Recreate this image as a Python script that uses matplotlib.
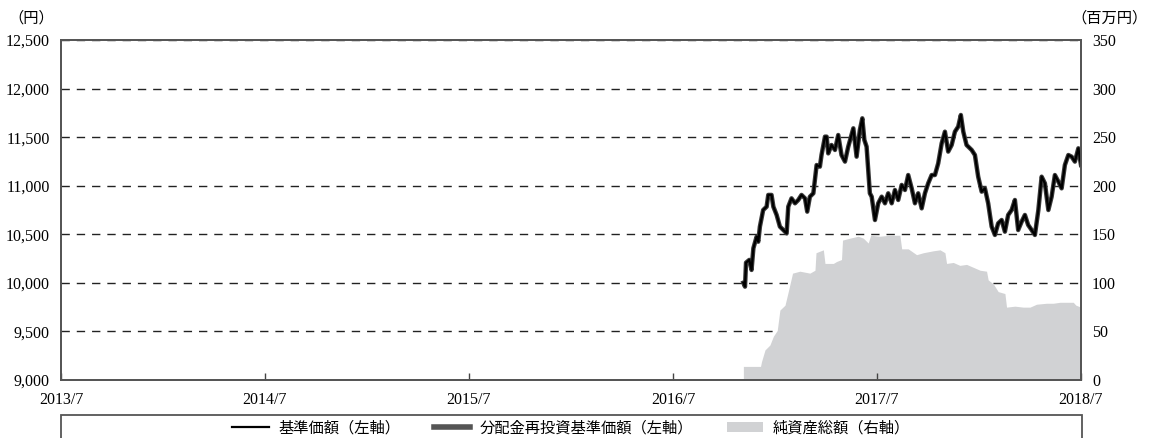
import matplotlib
matplotlib.use("Agg")
import matplotlib.pyplot as plt
from matplotlib.lines import Line2D
from matplotlib.patches import Patch, Rectangle

plt.rcParams['font.family'] = ['Liberation Serif', 'Noto Sans CJK JP']

# fund price (weekly-ish readings), x in fractional years
price_x = [2016.845, 2016.853, 2016.858, 2016.874, 2016.885, 2016.894, 2016.910, 2016.918,
           2016.926, 2016.942, 2016.959, 2016.967, 2016.983, 2016.992, 2017.008, 2017.024,
           2017.041, 2017.057, 2017.065, 2017.081, 2017.098, 2017.114, 2017.130, 2017.147,
           2017.158, 2017.171, 2017.188, 2017.204, 2017.220, 2017.228, 2017.245, 2017.253,
           2017.261, 2017.277, 2017.294, 2017.310, 2017.326, 2017.343, 2017.359, 2017.384,
           2017.400, 2017.416, 2017.428, 2017.438, 2017.449, 2017.465, 2017.474, 2017.490,
           2017.506, 2017.523, 2017.539, 2017.555, 2017.572, 2017.588, 2017.604, 2017.621,
           2017.637, 2017.653, 2017.670, 2017.686, 2017.702, 2017.719, 2017.735, 2017.751,
           2017.768, 2017.784, 2017.800, 2017.817, 2017.833, 2017.849, 2017.866, 2017.882,
           2017.898, 2017.911, 2017.923, 2017.939, 2017.964, 2017.980, 2017.996, 2018.013,
           2018.029, 2018.045, 2018.062, 2018.078, 2018.094, 2018.111, 2018.127, 2018.143,
           2018.160, 2018.176, 2018.192, 2018.209, 2018.225, 2018.241, 2018.258, 2018.274,
           2018.291, 2018.307, 2018.323, 2018.340, 2018.356, 2018.372, 2018.389, 2018.405,
           2018.421, 2018.438, 2018.454, 2018.470, 2018.487, 2018.500]
price = [10002, 9961, 10208, 10236, 10133, 10356, 10476, 10424,
         10579, 10750, 10784, 10905, 10905, 10784, 10699, 10579,
         10544, 10510, 10784, 10870, 10819, 10853, 10905, 10870,
         10733, 10887, 10922, 11213, 11196, 11316, 11505, 11505,
         11333, 11419, 11368, 11522, 11316, 11248, 11402, 11591,
         11299, 11574, 11694, 11471, 11402, 10922, 10887, 10647,
         10819, 10887, 10819, 10922, 10819, 10956, 10853, 11008,
         10956, 11110, 10973, 10819, 10922, 10767, 10922, 11025,
         11110, 11110, 11230, 11436, 11556, 11351, 11419, 11556,
         11608, 11728, 11556, 11419, 11368, 11316, 11093, 10939,
         10973, 10819, 10579, 10493, 10613, 10647, 10527, 10699,
         10750, 10853, 10544, 10630, 10699, 10596, 10544, 10493,
         10750, 11093, 11025, 10750, 10887, 11110, 11042, 10973,
         11213, 11316, 11299, 11248, 11385, 11213]
# reinvested price equals the base price (no distributions)
price_reinv = price

# net assets (million yen)
assets_x = [2016.845, 2016.929, 2016.934, 2016.951, 2016.975, 2016.992, 2017.011, 2017.024,
            2017.049, 2017.065, 2017.086, 2017.122, 2017.171, 2017.196, 2017.201, 2017.237,
            2017.245, 2017.286, 2017.302, 2017.326, 2017.331, 2017.367, 2017.408, 2017.433,
            2017.457, 2017.469, 2017.514, 2017.563, 2017.612, 2017.621, 2017.653, 2017.694,
            2017.727, 2017.776, 2017.809, 2017.833, 2017.841, 2017.874, 2017.906, 2017.939,
            2017.972, 2018.005, 2018.037, 2018.045, 2018.070, 2018.094, 2018.127, 2018.135,
            2018.176, 2018.217, 2018.250, 2018.282, 2018.331, 2018.364, 2018.397, 2018.429,
            2018.462, 2018.475, 2018.500]
assets = [14, 14, 19, 31, 36, 45, 51, 72,
          77, 91, 110, 112, 110, 113, 131, 134,
          120, 120, 122, 124, 144, 146, 148, 146,
          141, 149, 148, 149, 149, 135, 135, 129,
          131, 133, 134, 131, 120, 121, 118, 119,
          116, 113, 112, 103, 99, 91, 89, 75,
          76, 75, 75, 78, 79, 79, 80, 80,
          80, 77, 75]

x_ticks = [2013.5, 2014.5, 2015.5, 2016.5, 2017.5, 2018.5]
x_labels = ["2013/7", "2014/7", "2015/7", "2016/7", "2017/7", "2018/7"]
left_ticks = [9000, 9500, 10000, 10500, 11000, 11500, 12000, 12500]
right_ticks = [0, 50, 100, 150, 200, 250, 300, 350]

fig = plt.figure(figsize=(11.49, 4.38), dpi=100)
ax = fig.add_axes([61/1149, 1-380/438, 1020/1149, 340/438])
ax2 = ax.twinx()

ax2.set_axisbelow(True)
ax2.fill_between(assets_x, assets, color='#d1d2d4', lw=0, zorder=1)
ax2.set_ylim(0, 350)
ax2.set_yticks(right_ticks)
ax2.set_yticklabels(["{:,}".format(v) for v in right_ticks])
ax2.grid(axis='y', color='#222222', linestyle=(0, (6, 5)), lw=1.0)
ax2.tick_params(axis='y', length=0, pad=8, labelsize=11.5)

ax.set_zorder(ax2.get_zorder() + 1)
ax.patch.set_visible(False)
ax.plot(price_x, price_reinv, color='#3a3a3a', lw=3.2, solid_joinstyle='round')
ax.plot(price_x, price, color='black', lw=1.6, solid_joinstyle='round')
ax.set_xlim(2013.5, 2018.5)
ax.set_ylim(9000, 12500)
ax.set_yticks(left_ticks)
ax.set_yticklabels(["{:,}".format(v) for v in left_ticks])
ax.set_xticks(x_ticks)
ax.set_xticklabels(x_labels)
ax.tick_params(axis='y', length=0, pad=8, labelsize=11.5)
ax.tick_params(axis='x', direction='in', length=5, width=1, color='#444444', pad=9, labelsize=11.5)

for a in (ax, ax2):
    for s in a.spines.values():
        s.set_color('#555555')
        s.set_linewidth(1.3)

fig.text(54/1149, 1-18/438, "（円）", ha='right', va='center', fontsize=11)
fig.text(1148/1149, 1-18/438, "（百万円）", ha='right', va='center', fontsize=11)

# legend box (bottom is cut off by the figure edge)
fig.patches.append(Rectangle((61/1149, -0.1), 1021/1149, 0.1 + (438-415)/438,
                             transform=fig.transFigure, fill=False,
                             edgecolor='#555555', lw=1.3))
handles = [Line2D([], [], color='black', lw=1.6),
           Line2D([], [], color='#555555', lw=4),
           Patch(facecolor='#d1d2d4', edgecolor='none')]
labels = ["基準価額（左軸）", "分配金再投資基準価額（左軸）", "純資産総額（右軸）"]
fig.legend(handles, labels, loc='center', bbox_to_anchor=(571/1149, 1-428/438),
           ncol=3, frameon=False, fontsize=11, handlelength=2.4,
           columnspacing=2.2, handletextpad=0.6)

fig.savefig("out.png", dpi=100)
